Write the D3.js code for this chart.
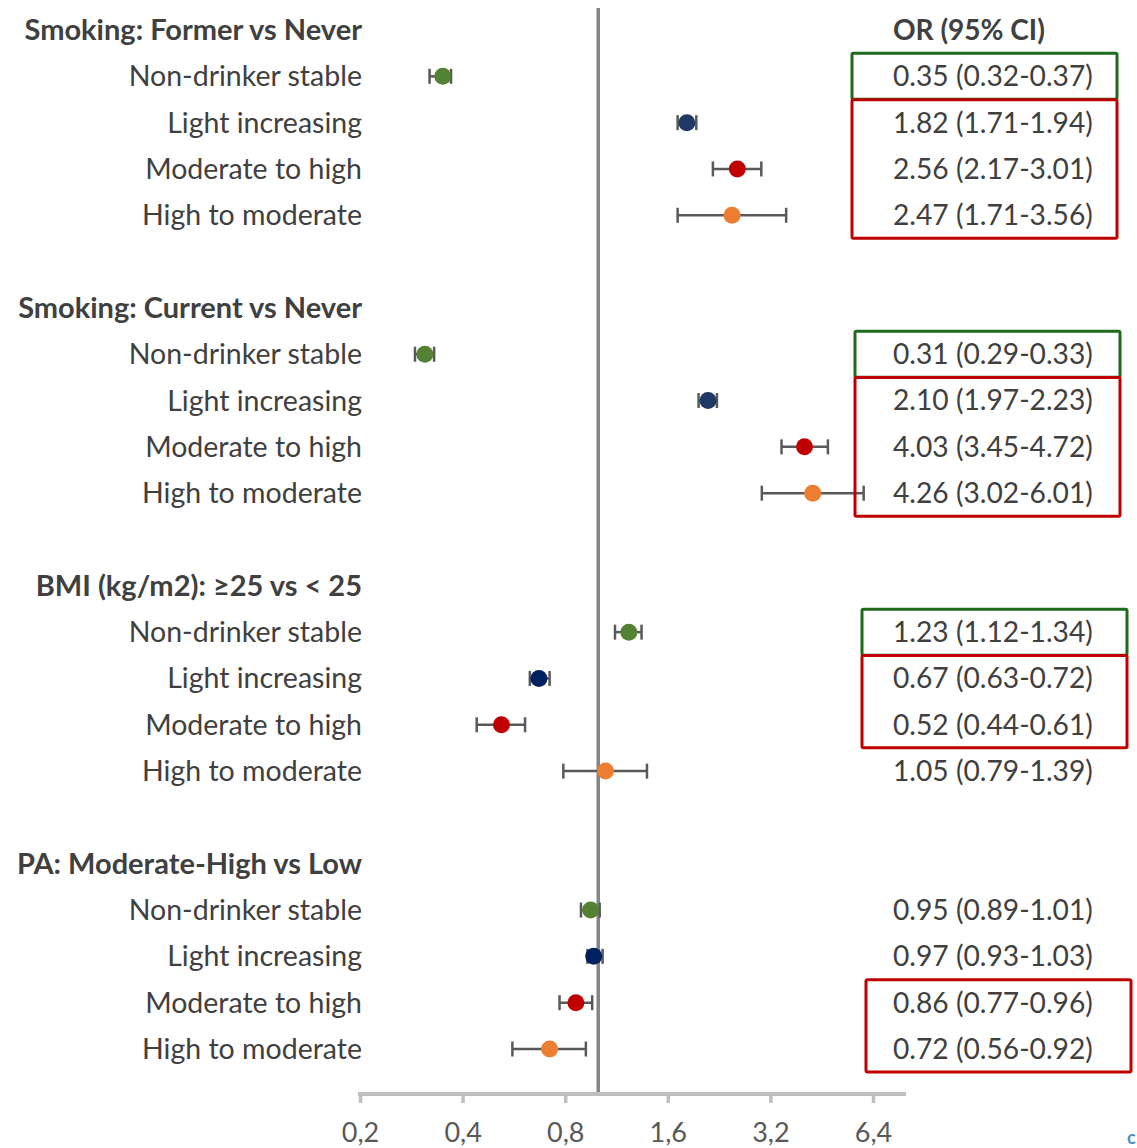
<!DOCTYPE html>
<html>
<head>
<meta charset="utf-8">
<script src="https://cdn.jsdelivr.net/npm/d3@7"></script>
<style>
  html, body { margin: 0; padding: 0; background: #fff; }
  svg { display: block; }
  text { font-family: Lato, "Open Sans", sans-serif; }
</style>
</head>
<body>
<svg id="chart" width="1137" height="1148"></svg>
<script>
// Odds ratios by drinking trajectory for each risk factor
const groups = [
  "Smoking: Former vs Never",
  "Smoking: Current vs Never",
  "BMI (kg/m2): \u226525 vs < 25",
  "PA: Moderate-High vs Low"
];
const trajectories = ["Non-drinker stable", "Light increasing", "Moderate to high", "High to moderate"];

// [group][trajectory]
const oddsRatio = [
  [0.35, 1.82, 2.56, 2.47],
  [0.31, 2.10, 4.03, 4.26],
  [1.23, 0.67, 0.52, 1.05],
  [0.95, 0.97, 0.86, 0.72]
];
const ciLower = [
  [0.32, 1.71, 2.17, 1.71],
  [0.29, 1.97, 3.45, 3.02],
  [1.12, 0.63, 0.44, 0.79],
  [0.89, 0.93, 0.77, 0.56]
];
const ciUpper = [
  [0.37, 1.94, 3.01, 3.56],
  [0.33, 2.23, 4.72, 6.01],
  [1.34, 0.72, 0.61, 1.39],
  [1.01, 1.03, 0.96, 0.92]
];
const tickValues = [0.2, 0.4, 0.8, 1.6, 3.2, 6.4];

// Outlined blocks of estimates: group, first trajectory, last trajectory, outline
const highlights = [
  [0, 0, 0, "green"], [0, 1, 3, "red"],
  [1, 0, 0, "green"], [1, 1, 3, "red"],
  [2, 0, 0, "green"], [2, 1, 2, "red"],
  [3, 2, 3, "red"]
];

const svg = d3.select("#chart");
const textColor = "#404040";
const dotColors = ["#548235", "#203864", "#c00000", "#ed7d31"];
const navyDeep = "#002060";
const boxColors = { green: "#1e6b1e", red: "#c00000" };

// Row layout: header + 4 rows + spacer per group
const rowIndex = (g, t) => g * 6 + (t === null ? 0 : t + 1);
const y = d3.scaleLinear().domain([0, 22]).range([30, 1049]);
const x = d3.scaleLog().base(2).domain([0.2, 8]).range([360, 906]);
const axisY = 1094;

// Reference line at OR = 1
svg.append("line")
  .attr("x1", x(1)).attr("x2", x(1))
  .attr("y1", 8).attr("y2", axisY)
  .attr("stroke", "#858585").attr("stroke-width", 3.5);

// Axis
const axis = svg.append("g")
  .attr("transform", `translate(0,${axisY})`)
  .call(d3.axisBottom(x).tickValues(tickValues).tickSize(9).tickSizeOuter(0)
    .tickFormat(d => String(d).replace(".", ",")));
axis.select(".domain").attr("stroke", "#bfbfbf").attr("stroke-width", 4)
  .attr("d", `M${x(0.2) - 2},0H${x(8)}`);
axis.selectAll(".tick line").attr("stroke", "#bfbfbf").attr("stroke-width", 3.5).attr("y1", 0);
axis.selectAll(".tick text")
  .attr("y", 48).attr("dy", 0)
  .attr("fill", "#595959").attr("font-size", 27)
  .style("font-family", "Lato, sans-serif");

// Column header
svg.append("text")
  .attr("x", 893).attr("y", y(0)).attr("dy", "0.35em")
  .attr("font-size", 28).attr("font-weight", 700).attr("fill", textColor)
  .text("OR (95% CI)");

groups.forEach((gName, g) => {
  svg.append("text")
    .attr("x", 362).attr("y", y(rowIndex(g, null))).attr("dy", "0.35em")
    .attr("text-anchor", "end")
    .attr("font-size", 29).attr("font-weight", 700).attr("fill", textColor)
    .text(gName);

  trajectories.forEach((tName, t) => {
    const cy = y(rowIndex(g, t));
    svg.append("text")
      .attr("x", 362).attr("y", cy).attr("dy", "0.35em")
      .attr("text-anchor", "end")
      .attr("font-size", 28.5).attr("fill", textColor)
      .text(tName);

    const or = oddsRatio[g][t], lo = ciLower[g][t], hi = ciUpper[g][t];
    const bar = svg.append("g").attr("stroke", "#595959").attr("stroke-width", 2.5);
    bar.append("line").attr("x1", x(lo)).attr("x2", x(hi)).attr("y1", cy).attr("y2", cy);
    bar.append("line").attr("x1", x(lo)).attr("x2", x(lo)).attr("y1", cy - 7.5).attr("y2", cy + 7.5);
    bar.append("line").attr("x1", x(hi)).attr("x2", x(hi)).attr("y1", cy - 7.5).attr("y2", cy + 7.5);

    svg.append("circle")
      .attr("cx", x(or)).attr("cy", cy).attr("r", 8.5)
      .attr("fill", t === 1 && g >= 2 ? navyDeep : dotColors[t]);

    svg.append("text")
      .attr("x", 893).attr("y", cy).attr("dy", "0.35em")
      .attr("font-size", 28.2).attr("fill", textColor)
      .text(`${or.toFixed(2)} (${lo.toFixed(2)}-${hi.toFixed(2)})`);
  });
});

// Outlines around grouped estimates
const boxLeft = [852, 855, 862, 866];
highlights.forEach(([g, t0, t1, kind]) => {
  const top = y(rowIndex(g, t0)) - 23;
  const bottom = y(rowIndex(g, t1)) + 23;
  svg.append("rect")
    .attr("x", boxLeft[g]).attr("y", top)
    .attr("width", 265).attr("height", bottom - top)
    .attr("rx", 1.5)
    .attr("fill", "none").attr("stroke", boxColors[kind]).attr("stroke-width", 3);
});

// Corner mark
svg.append("text")
  .attr("x", 1127).attr("y", 1144)
  .attr("font-size", 18).attr("font-weight", 700).attr("fill", "#4a8fc4")
  .text("c");
</script>
</body>
</html>
